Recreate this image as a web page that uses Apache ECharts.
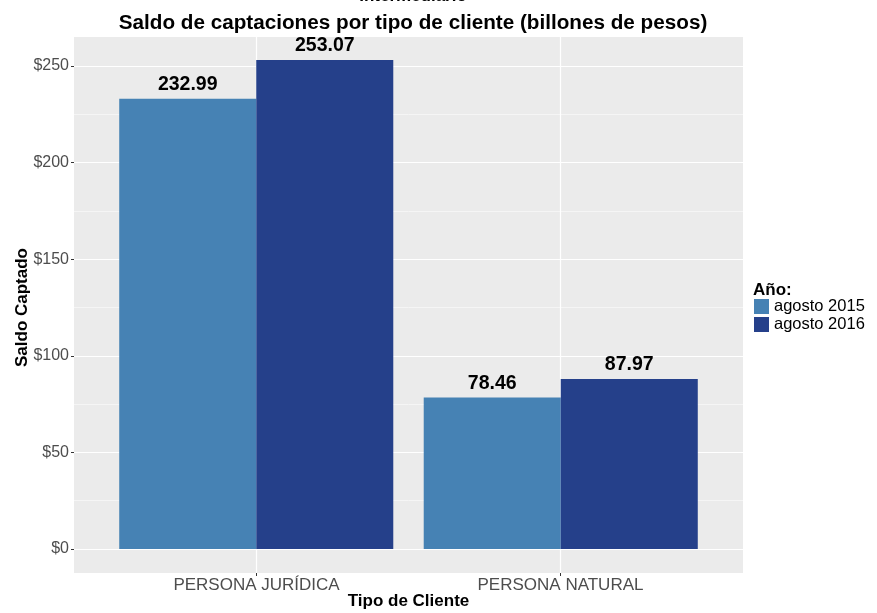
<!DOCTYPE html>
<html>
<head>
<meta charset="utf-8">
<script src="https://cdn.jsdelivr.net/npm/echarts@6/dist/echarts.min.js"></script>
<style>html,body{margin:0;padding:0;background:#fff}#c{width:877px;height:613px}</style>
</head>
<body>
<div id="c"></div>
<script>
const categories = ['PERSONA JURÍDICA', 'PERSONA NATURAL'];
const seriesNames = ['agosto 2015', 'agosto 2016'];
const values2015 = [232.99, 78.46];
const values2016 = [253.07, 87.97];
const yMin = 0, yMax = 250, yStep = 50;
const colors = ['#4682B4', '#25408A'];

const font = 'Liberation Sans, Arial, Helvetica, sans-serif';
const chart = echarts.init(document.getElementById('c'), null, {renderer: 'canvas'});

const labelStyle = {
  show: true, position: 'top', distance: 4,
  fontFamily: font, fontSize: 19.5, fontWeight: 'bold', color: '#000',
  formatter: p => p.value.toFixed(2)
};

const g = (o) => Object.assign({outerBoundsMode: 'none', containLabel: false}, o);

chart.setOption({
  animation: false,
  backgroundColor: '#fff',
  title: [
    {text: 'Intermediario', left: 408, top: -17, textAlign: 'center',
     textStyle: {fontFamily: font, fontSize: 17, fontWeight: 'bold', color: '#000'}},
    {text: 'Saldo de captaciones por tipo de cliente (billones de pesos)', left: 408, top: 8, textAlign: 'center',
     textStyle: {fontFamily: font, fontSize: 20.7, fontWeight: 'bold', color: '#000'}},
    {text: 'Año:', left: 753, top: 282, padding: 0,
     textStyle: {fontFamily: font, fontSize: 17, fontWeight: 'bold', color: '#000'}}
  ],
  legend: {
    orient: 'vertical', left: 754, top: 298, padding: 0,
    itemWidth: 15, itemHeight: 15, itemGap: 1,
    icon: 'rect',
    textStyle: {fontFamily: font, fontSize: 16.5, color: '#000', lineHeight: 15},
    data: seriesNames
  },
  grid: [
    g({left: 74, right: 134, top: 37, bottom: 40, show: true, backgroundColor: '#EBEBEB', borderWidth: 0}),
    g({left: 74, right: 134, top: 66, bottom: 64}),
    g({left: 104, right: 164, top: 66, bottom: 64}),
    g({left: 256.5, right: 316.5, top: 37, bottom: 40})
  ],
  xAxis: [
    {gridIndex: 0, type: 'value', show: false},
    {gridIndex: 1, type: 'value', min: 0, max: 1, show: false},
    {gridIndex: 2, type: 'category', data: categories, show: false, boundaryGap: true},
    {gridIndex: 3, type: 'category', data: categories, boundaryGap: false, position: 'bottom',
     axisLine: {show: false, onZero: false},
     axisTick: {show: true, length: 3, inside: false, lineStyle: {color: '#333'}},
     axisLabel: {margin: 4, fontFamily: font, fontSize: 17, color: '#4D4D4D'},
     splitLine: {show: true, lineStyle: {color: '#fff', width: 1.2}},
     name: 'Tipo de Cliente', nameLocation: 'middle', nameGap: 20, nameMoveOverlap: false,
     nameTextStyle: {fontFamily: font, fontSize: 17, fontWeight: 'bold', color: '#000'}}
  ],
  yAxis: [
    {gridIndex: 0, type: 'value', show: false},
    {gridIndex: 1, type: 'value', min: yMin, max: yMax, interval: yStep, position: 'left',
     axisLine: {show: false, onZero: false},
     axisTick: {show: true, length: 3, inside: false, lineStyle: {color: '#333'}},
     axisLabel: {margin: 5, fontFamily: font, fontSize: 16, color: '#4D4D4D', formatter: v => '$' + v},
     splitLine: {show: true, lineStyle: {color: '#fff', width: 1.2}},
     minorTick: {show: false, splitNumber: 2},
     minorSplitLine: {show: true, lineStyle: {color: '#F5F5F5', width: 1}},
     name: 'Saldo Captado', nameLocation: 'middle', nameGap: 43, nameRotate: 90, nameMoveOverlap: false,
     nameTextStyle: {fontFamily: font, fontSize: 17, fontWeight: 'bold', color: '#000'}},
    {gridIndex: 2, type: 'value', min: yMin, max: yMax, show: false},
    {gridIndex: 3, type: 'value', min: 0, max: 1, show: false}
  ],
  series: [
    {name: seriesNames[0], type: 'bar', xAxisIndex: 2, yAxisIndex: 2, data: values2015,
     itemStyle: {color: colors[0]}, barGap: '0%', barCategoryGap: '10%', clip: false, label: labelStyle},
    {name: seriesNames[1], type: 'bar', xAxisIndex: 2, yAxisIndex: 2, data: values2016,
     itemStyle: {color: colors[1]}, barGap: '0%', barCategoryGap: '10%', clip: false, label: labelStyle}
  ]
});
</script>
</body>
</html>
